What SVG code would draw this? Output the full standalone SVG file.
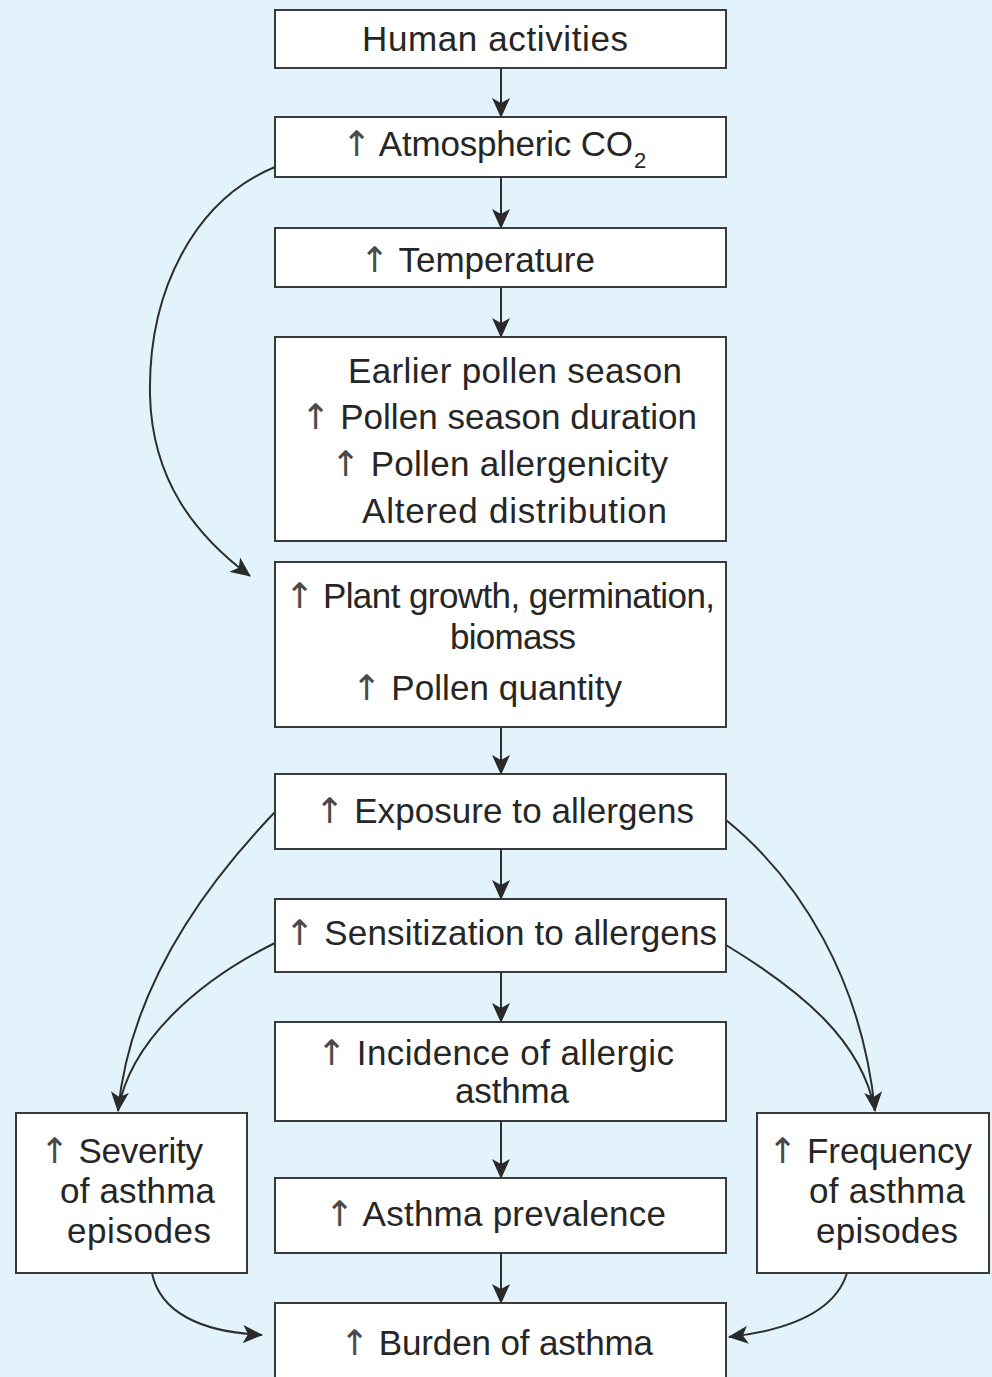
<svg xmlns="http://www.w3.org/2000/svg" width="992" height="1377" viewBox="0 0 992 1377">
<defs>
<style>
.box{fill:#ffffff;stroke:#3a3a3a;stroke-width:2}
.t{font-family:"Liberation Sans",Arial,sans-serif;font-size:35px;fill:#262626}
.u{font-family:"DejaVu Sans",sans-serif;fill:#4a4a4a}
.c{fill:none;stroke:#2e2e2e;stroke-width:2}
</style>
<marker id="ah" markerUnits="userSpaceOnUse" markerWidth="20" markerHeight="18" refX="19" refY="9" orient="auto" viewBox="0 0 20 18">
<path d="M0,0 L20,9 L0,18 L5,9 Z" fill="#2a2a2a"/>
</marker>
</defs>
<rect x="0" y="0" width="992" height="1377" fill="#e2f3fc"/>

<g id="connectors">
<line class="c" x1="501" y1="68" x2="501" y2="117" marker-end="url(#ah)"/>
<line class="c" x1="501" y1="177" x2="501" y2="228" marker-end="url(#ah)"/>
<line class="c" x1="501" y1="287" x2="501" y2="337" marker-end="url(#ah)"/>
<line class="c" x1="501" y1="727" x2="501" y2="774" marker-end="url(#ah)"/>
<line class="c" x1="501" y1="849" x2="501" y2="899" marker-end="url(#ah)"/>
<line class="c" x1="501" y1="972" x2="501" y2="1022" marker-end="url(#ah)"/>
<line class="c" x1="501" y1="1121" x2="501" y2="1178" marker-end="url(#ah)"/>
<line class="c" x1="501" y1="1253" x2="501" y2="1303" marker-end="url(#ah)"/>
<path class="c" d="M275,167 C195,200 148,290 150,395 C152,480 195,535 250,576" marker-end="url(#ah)"/>
<path class="c" d="M275,812 C200,890 130,990 118,1111" marker-end="url(#ah)"/>
<path class="c" d="M275,943 C200,980 130,1040 118,1111"/>
<path class="c" d="M726,820 C800,880 862,980 875,1111" marker-end="url(#ah)"/>
<path class="c" d="M726,945 C800,990 862,1040 875,1111"/>
<path class="c" d="M152,1273 C160,1312 200,1332 262,1335" marker-end="url(#ah)"/>
<path class="c" d="M847,1273 C835,1312 790,1330 729,1337" marker-end="url(#ah)"/>
</g>

<g id="n-human">
<rect class="box" x="275" y="10" width="451" height="58"/>
<text class="t" x="362" y="51" textLength="266">Human activities</text>
</g>
<g id="n-co2">
<rect class="box" x="275" y="117" width="451" height="60"/>
<text class="t" x="342" y="156" textLength="291"><tspan class="u">↑</tspan> Atmospheric CO</text>
<text class="t" x="634" y="168" style="font-size:22px">2</text>
</g>
<g id="n-temp">
<rect class="box" x="275" y="228" width="451" height="59"/>
<text class="t" x="360" y="272" textLength="235"><tspan class="u">↑</tspan> Temperature</text>
</g>
<g id="n-pollen">
<rect class="box" x="275" y="337" width="451" height="204"/>
<text class="t" x="348" y="383" textLength="334">Earlier pollen season</text>
<text class="t" x="301" y="429" textLength="396"><tspan class="u">↑</tspan> Pollen season duration</text>
<text class="t" x="331" y="476" textLength="337"><tspan class="u">↑</tspan> Pollen allergenicity</text>
<text class="t" x="362" y="523" textLength="305">Altered distribution</text>
</g>
<g id="n-plant">
<rect class="box" x="275" y="562" width="451" height="165"/>
<text class="t" x="285" y="608" textLength="430"><tspan class="u">↑</tspan> Plant growth, germination,</text>
<text class="t" x="450" y="649" textLength="126">biomass</text>
<text class="t" x="352" y="700" textLength="270"><tspan class="u">↑</tspan> Pollen quantity</text>
</g>
<g id="n-exposure">
<rect class="box" x="275" y="774" width="451" height="75"/>
<text class="t" x="315" y="823" textLength="379"><tspan class="u">↑</tspan> Exposure to allergens</text>
</g>
<g id="n-sens">
<rect class="box" x="275" y="899" width="451" height="73"/>
<text class="t" x="285" y="945" textLength="432"><tspan class="u">↑</tspan> Sensitization to allergens</text>
</g>
<g id="n-incidence">
<rect class="box" x="275" y="1022" width="451" height="99"/>
<text class="t" x="317" y="1065" textLength="357"><tspan class="u">↑</tspan> Incidence of allergic</text>
<text class="t" x="455" y="1103" textLength="114">asthma</text>
</g>
<g id="n-prevalence">
<rect class="box" x="275" y="1178" width="451" height="75"/>
<text class="t" x="325" y="1226" textLength="341"><tspan class="u">↑</tspan> Asthma prevalence</text>
</g>
<g id="n-burden">
<rect class="box" x="275" y="1303" width="451" height="80"/>
<text class="t" x="340" y="1355" textLength="313"><tspan class="u">↑</tspan> Burden of asthma</text>
</g>
<g id="n-severity">
<rect class="box" x="16" y="1113" width="231" height="160"/>
<text class="t" x="40" y="1163" textLength="163"><tspan class="u">↑</tspan> Severity</text>
<text class="t" x="60" y="1203" textLength="155">of asthma</text>
<text class="t" x="67" y="1243" textLength="144">episodes</text>
</g>
<g id="n-frequency">
<rect class="box" x="757" y="1113" width="232" height="160"/>
<text class="t" x="768" y="1163" textLength="204"><tspan class="u">↑</tspan> Frequency</text>
<text class="t" x="809" y="1203" textLength="156">of asthma</text>
<text class="t" x="816" y="1243" textLength="142">episodes</text>
</g>
</svg>
